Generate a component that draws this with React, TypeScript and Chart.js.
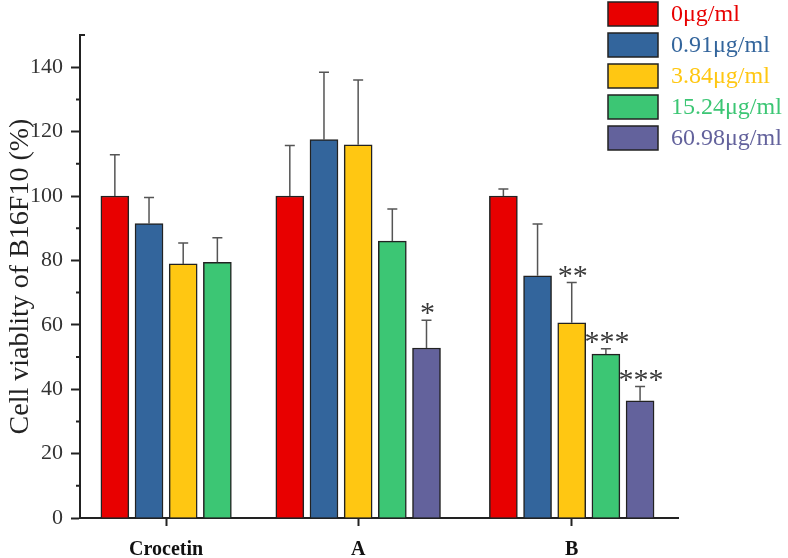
import React, { useEffect, useRef } from "react";
import { Chart, registerables } from "chart.js";

Chart.register(...registerables);

// ---------- data ----------
const categories = ["Crocetin", "A", "B"];
const seriesLabels = ["0μg/ml", "0.91μg/ml", "3.84μg/ml", "15.24μg/ml", "60.98μg/ml"];

const viability0 = [100, 100, 100];
const viability091 = [91.4, 117.5, 75.2];
const viability384 = [78.9, 115.9, 60.6];
const viability1524 = [79.4, 86.0, 50.9];
const viability6098 = [null, 52.8, 36.4];

const sd0 = [12.8, 15.7, 2.2];
const sd091 = [8.1, 20.9, 16.1];
const sd384 = [6.5, 20.1, 12.5];
const sd1524 = [7.6, 10.0, 1.7];
const sd6098 = [null, 8.6, 4.4];

const sig0 = ["", "", ""];
const sig091 = ["", "", ""];
const sig384 = ["", "", "**"];
const sig1524 = ["", "", "***"];
const sig6098 = ["", "*", "***"];

// ---------- layout / style (not data) ----------
const groupCenters = [2.52, 8.14, 14.39]; // x-scale units, one slot = 1
const xMax = 17.5;
const colors = ["#E80000", "#33659C", "#FFC712", "#3CC674", "#63629C"];
const SERIF = "'Liberation Serif', 'Times New Roman', serif";

const values = [viability0, viability091, viability384, viability1524, viability6098];
const sds = [sd0, sd091, sd384, sd1524, sd6098];
const sigs = [sig0, sig091, sig384, sig1524, sig6098];

function buildPoints(si: number) {
  const pts: any[] = [];
  categories.forEach((_, g) => {
    const v = values[si][g];
    if (v === null || v === undefined) return;
    const present = values.filter((arr) => arr[g] !== null && arr[g] !== undefined).length;
    const slot = values.slice(0, si).filter((arr) => arr[g] !== null && arr[g] !== undefined).length;
    pts.push({ x: groupCenters[g] + (slot - (present - 1) / 2), y: v, g });
  });
  return pts;
}

const extrasPlugin = {
  id: "extras",
  afterDatasetsDraw(chart: any) {
    const ctx = chart.ctx;
    const y = chart.scales.y;
    ctx.save();
    // error bars + significance marks
    chart.data.datasets.forEach((ds: any, si: number) => {
      const meta = chart.getDatasetMeta(si);
      meta.data.forEach((el: any, i: number) => {
        const g = ds.data[i].g;
        const v = values[si][g] as number;
        const e = sds[si][g] as number;
        const topY = y.getPixelForValue(v);
        const capY = y.getPixelForValue(v + e);
        ctx.strokeStyle = "#555";
        ctx.lineWidth = 1.5;
        ctx.beginPath();
        ctx.moveTo(el.x, topY);
        ctx.lineTo(el.x, capY);
        ctx.moveTo(el.x - 5, capY);
        ctx.lineTo(el.x + 5, capY);
        ctx.stroke();
        const s = sigs[si][g];
        if (s) {
          ctx.fillStyle = "#3a3a3a";
          ctx.font = `30px ${SERIF}`;
          ctx.textAlign = "center";
          ctx.textBaseline = "alphabetic";
          ctx.fillText(s, el.x + 1, capY + 2);
        }
      });
    });
    ctx.restore();
  },
  afterDraw(chart: any) {
    const ctx = chart.ctx;
    const y = chart.scales.y;
    const area = chart.chartArea;
    ctx.save();
    // minor ticks
    ctx.strokeStyle = "#222";
    ctx.lineWidth = 2;
    ctx.beginPath();
    for (let v = 10; v < 150; v += 20) {
      const py = y.getPixelForValue(v);
      ctx.moveTo(area.left - 4, py);
      ctx.lineTo(area.left, py);
    }
    // top stub
    ctx.moveTo(area.left - 1, area.top);
    ctx.lineTo(area.left + 5, area.top);
    ctx.stroke();
    // legend
    const bx = 608, by = 2, bw = 50, bh = 24, pitch = 31;
    chart.data.datasets.forEach((ds: any, i: number) => {
      const top = by + i * pitch;
      ctx.fillStyle = ds.backgroundColor;
      ctx.fillRect(bx, top, bw, bh);
      ctx.strokeStyle = "#222";
      ctx.lineWidth = 1.5;
      ctx.strokeRect(bx, top, bw, bh);
      ctx.fillStyle = ds.backgroundColor;
      ctx.font = `24px ${SERIF}`;
      ctx.textAlign = "left";
      ctx.textBaseline = "middle";
      ctx.fillText(ds.label, bx + 63, top + bh / 2 + 1);
    });
    ctx.restore();
  },
};

export default function App() {
  const ref = useRef<HTMLCanvasElement>(null);
  useEffect(() => {
    const chart = new Chart(ref.current as HTMLCanvasElement, {
      type: "bar",
      data: {
        datasets: seriesLabels.map((label, si) => ({
          label,
          data: buildPoints(si),
          backgroundColor: colors[si],
          borderColor: "#222",
          borderWidth: 1.5,
          barThickness: 28,
          grouped: false,
        })),
      },
      options: {
        responsive: false,
        animation: false,
        devicePixelRatio: 1,
        layout: { padding: { top: 35, right: 110, left: 0, bottom: 0 } },
        plugins: { legend: { display: false }, tooltip: { enabled: false } },
        scales: {
          x: {
            type: "linear",
            min: 0,
            max: xMax,
            offset: false,
            afterBuildTicks: (scale: any) => {
              scale.ticks = groupCenters.map((v) => ({ value: v }));
            },
            afterFit: (scale: any) => {
              scale.height = 40;
            },
            ticks: {
              autoSkip: false,
              maxRotation: 0,
              padding: 12,
              color: "#111",
              font: { family: SERIF, size: 20, weight: "bold" },
              callback: (_v: any, i: number) => categories[i],
            },
            grid: { display: true, drawOnChartArea: false, offset: false, tickLength: 8, tickColor: "#222", tickWidth: 2 },
            border: { display: true, color: "#222", width: 2 },
          },
          y: {
            min: 0,
            max: 150,
            afterFit: (scale: any) => {
              scale.width = 80;
            },
            ticks: {
              stepSize: 10,
              padding: 8,
              color: "#333",
              font: { family: SERIF, size: 22 },
              callback: (v: any) => (v % 20 === 0 && v <= 140 ? String(v) : ""),
            },
            grid: {
              display: true,
              drawOnChartArea: false,
              tickLength: 9,
              tickWidth: 2,
              tickColor: (c: any) => (c.tick && c.tick.value % 20 === 0 && c.tick.value <= 140 ? "#222" : "rgba(0,0,0,0)"),
            },
            border: { display: true, color: "#222", width: 2 },
            title: {
              display: true,
              text: "Cell viablity of B16F10 (%)",
              color: "#222",
              font: { family: SERIF, size: 28 },
              padding: { top: 4, bottom: 0 },
            },
          },
        },
      },
      plugins: [extrasPlugin],
    } as any);
    return () => chart.destroy();
  }, []);
  return (
    <div style={{ position: "fixed", left: 0, top: 0, width: 788, height: 558, background: "#fff" }}>
      <canvas ref={ref} width={788} height={558} style={{ display: "block", width: 788, height: 558 }} />
    </div>
  );
}
